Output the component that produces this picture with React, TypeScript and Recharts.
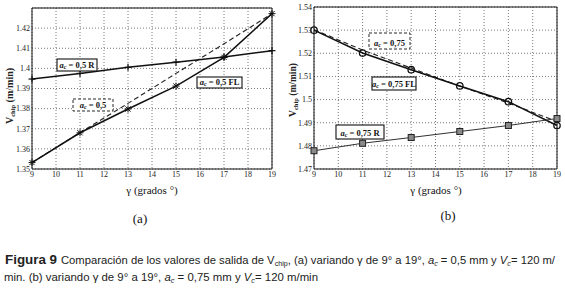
import React from "react"
import { LineChart, Line, XAxis, YAxis, CartesianGrid, ReferenceArea } from "recharts"

// ángulo de ataque γ (grados)
const gammas = [9, 11, 13, 15, 17, 19]

// (a) a_c = 0,5 mm
const leftR = [1.3947, 1.3975, 1.4005, 1.4031, 1.4056, 1.4088]
const leftFL = [1.3532, 1.368, 1.3798, 1.3912, 1.4055, 1.4272]
const leftModel = [1.3532, 1.3681, 1.3826, 1.3975, 1.4122, 1.4272]

// (b) a_c = 0,75 mm
const rightFL = [1.53, 1.5201, 1.5129, 1.5059, 1.4991, 1.4888]
const rightModel = [1.5302, 1.5214, 1.5136, 1.5058, 1.4985, 1.4905]
const rightR = [1.4779, 1.4811, 1.4836, 1.4862, 1.4888, 1.4918]

const xTicks = [9, 10, 11, 12, 13, 14, 15, 16, 17, 18, 19]
const leftTicks = [1.35, 1.36, 1.37, 1.38, 1.39, 1.4, 1.41, 1.42, 1.43]
const rightTicks = [1.47, 1.48, 1.49, 1.5, 1.51, 1.52, 1.53, 1.54]

const leftData = gammas.map((g, i) => ({ g, r: leftR[i], fl: leftFL[i], m: leftModel[i] }))
const rightData = gammas.map((g, i) => ({ g, r: rightR[i], fl: rightFL[i], m: rightModel[i] }))

const SERIF = "'Liberation Serif', 'Times New Roman', serif"
const NARROW = "'Liberation Sans Narrow', 'Arial Narrow', 'Liberation Sans', Arial, sans-serif"
const tickStyle = { fill: "#222", fontSize: 8, fontFamily: SERIF }
const fmt = (v: number) => String(parseFloat(v.toFixed(2)))

// marcadores
const plusDot = (p: any) => (
  <g key={`plus-${p.index}`} stroke="#111" strokeWidth={1.2}>
    <line x1={p.cx - 3.5} y1={p.cy} x2={p.cx + 3.5} y2={p.cy} />
    <line x1={p.cx} y1={p.cy - 3.5} x2={p.cx} y2={p.cy + 3.5} />
  </g>
)
const starDot = (p: any) => (
  <g key={`star-${p.index}`} stroke="#111" strokeWidth={1}>
    <line x1={p.cx - 3.5} y1={p.cy} x2={p.cx + 3.5} y2={p.cy} />
    <line x1={p.cx} y1={p.cy - 3.5} x2={p.cx} y2={p.cy + 3.5} />
    <line x1={p.cx - 2.6} y1={p.cy - 2.6} x2={p.cx + 2.6} y2={p.cy + 2.6} />
    <line x1={p.cx - 2.6} y1={p.cy + 2.6} x2={p.cx + 2.6} y2={p.cy - 2.6} />
  </g>
)
const circleDot = (p: any) => (
  <circle key={`circ-${p.index}`} cx={p.cx} cy={p.cy} r={3.2} fill="none" stroke="#111" strokeWidth={1.3} />
)
const squareDot = (p: any) => (
  <rect key={`sq-${p.index}`} x={p.cx - 3} y={p.cy - 3} width={6} height={6} fill="#8a8a8a" stroke="#222" strokeWidth={1} />
)

function Annot({ x, y, w, h, dashed, value }: any) {
  return (
    <g>
      <rect x={x} y={y} width={w} height={h} fill="#fff" stroke="#111" strokeWidth={dashed ? 0.9 : 1.1}
        strokeDasharray={dashed ? "3 2" : undefined} />
      <text x={x + w / 2} y={y + h - 3.2} textAnchor="middle" fontFamily={SERIF} fontSize={8.5}
        fontWeight="bold" fill="#111">
        <tspan fontStyle="italic">a</tspan>
        <tspan fontSize={6} dy={1.5} fontStyle="italic">c</tspan>
        <tspan dy={-1.5}>{` = ${value}`}</tspan>
      </text>
    </g>
  )
}

function Panel({ data, domain, ticks, yWidth, margin, width, children }: any) {
  return (
    <LineChart width={width} height={200} data={data} margin={margin}>
      <CartesianGrid strokeDasharray="1 2" stroke="#555" strokeWidth={0.8} />
      <XAxis dataKey="g" type="number" domain={[9, 19]} ticks={xTicks} height={31}
        axisLine={false} tickLine={false} tickSize={2} tickMargin={0} tick={tickStyle} interval={0} />
      <YAxis type="number" domain={domain} ticks={ticks} width={yWidth} allowDataOverflow
        axisLine={false} tickLine={false} tickSize={2} tickMargin={0} interval={0}
        tick={tickStyle} tickFormatter={(v: number) => (v === 1.43 ? "" : fmt(v))} />
      <ReferenceArea x1={9} x2={19} y1={domain[0]} y2={domain[1]} fill="none" stroke="#111" strokeWidth={1} ifOverflow="visible" />
      {children}
    </LineChart>
  )
}

export default function App() {
  return (
    <div style={{ position: "absolute", left: 0, top: 0, width: 565, height: 293, background: "#fff" }}>
      <div style={{ position: "absolute", left: 0, top: 0 }}>
        <Panel data={leftData} domain={[1.35, 1.43]} ticks={leftTicks} yWidth={32} width={285}
          margin={{ top: 8, right: 13, bottom: 0, left: 0 }}>
          <Line dataKey="m" stroke="#222" strokeWidth={1.1} strokeDasharray="5 3" dot={false} activeDot={false} isAnimationActive={false} />
          <Line dataKey="fl" stroke="#111" strokeWidth={1.5} dot={starDot} activeDot={false} isAnimationActive={false} />
          <Line dataKey="r" stroke="#111" strokeWidth={1.5} dot={plusDot} activeDot={false} isAnimationActive={false} />
        </Panel>
      </div>
      <div style={{ position: "absolute", left: 285, top: 0 }}>
        <Panel data={rightData} domain={[1.47, 1.54]} ticks={rightTicks} yWidth={29} width={280}
          margin={{ top: 7, right: 8, bottom: 0, left: 0 }}>
          <Line dataKey="m" stroke="#222" strokeWidth={1.1} strokeDasharray="5 3" dot={false} activeDot={false} isAnimationActive={false} />
          <Line dataKey="fl" stroke="#111" strokeWidth={1.6} dot={circleDot} activeDot={false} isAnimationActive={false} />
          <Line dataKey="r" stroke="#333" strokeWidth={1.1} dot={squareDot} activeDot={false} isAnimationActive={false} />
        </Panel>
      </div>

      <svg width={565} height={293} style={{ position: "absolute", left: 0, top: 0, pointerEvents: "none" }}>
        {/* títulos de ejes */}
        <text transform="translate(13,96) rotate(-90)" textAnchor="middle" fontFamily={SERIF} fontSize={10} fontWeight="bold" fill="#222">
          V<tspan fontSize={6.5} dy={2}>chip</tspan><tspan dy={-2}> (m/min)</tspan>
        </text>
        <text transform="translate(296,90) rotate(-90)" textAnchor="middle" fontFamily={SERIF} fontSize={9.5} fontWeight="bold" fill="#222">
          V<tspan fontSize={6.5} dy={2}>chip</tspan><tspan dy={-2}> (m/min)</tspan>
        </text>
        <text x={152} y={194} textAnchor="middle" fontFamily={SERIF} fontSize={11} fill="#111">γ (grados °)</text>
        <text x={436} y={194} textAnchor="middle" fontFamily={SERIF} fontSize={11} fill="#111">γ (grados °)</text>

        {/* etiquetas */}
        <Annot x={57} y={59} w={40} h={12} value="0,5 R" />
        <Annot x={197} y={77} w={45} h={11} value="0,5 FL" />
        <Annot x={73} y={99} w={40} h={12} dashed value="0,5" />
        <Annot x={369} y={33} w={41} h={16} dashed value="0,75" />
        <Annot x={372} y={77} w={44} h={13} value="0,75 FL" />
        <Annot x={336} y={125} w={48} h={14} value="0,75 R" />

        <text x={140} y={223} textAnchor="middle" fontFamily={SERIF} fontSize={13} fill="#111">(a)</text>
        <text x={448} y={220} textAnchor="middle" fontFamily={SERIF} fontSize={13} fill="#111">(b)</text>

        {/* pie de figura */}
        <text x={5} y={264} fontFamily="'Liberation Sans', Arial, sans-serif" fontSize={12} fontWeight="bold" fill="#222"
          textLength={52} lengthAdjust="spacingAndGlyphs">Figura 9</text>
        <text x={61} y={264} fontFamily={NARROW} fontSize={11} fill="#222" textLength={494} lengthAdjust="spacingAndGlyphs">
          Comparación de los valores de salida de V<tspan fontSize={7} dy={2}>chip</tspan>
          <tspan dy={-2}>, (a) variando γ de 9° a 19°, </tspan>
          <tspan fontStyle="italic">a</tspan><tspan fontSize={7} dy={2} fontStyle="italic">c</tspan>
          <tspan dy={-2}> = 0,5 mm y </tspan>
          <tspan fontStyle="italic">V</tspan><tspan fontSize={7} dy={2} fontStyle="italic">c</tspan>
          <tspan dy={-2}>= 120 m/</tspan>
        </text>
        <text x={4} y={281} fontFamily={NARROW} fontSize={11} fill="#222" textLength={314} lengthAdjust="spacingAndGlyphs">
          min. (b) variando γ de 9° a 19°, <tspan fontStyle="italic">a</tspan>
          <tspan fontSize={7} dy={2} fontStyle="italic">c</tspan>
          <tspan dy={-2}> = 0,75 mm y </tspan>
          <tspan fontStyle="italic">V</tspan><tspan fontSize={7} dy={2} fontStyle="italic">c</tspan>
          <tspan dy={-2}>= 120 m/min</tspan>
        </text>
      </svg>
    </div>
  )
}
